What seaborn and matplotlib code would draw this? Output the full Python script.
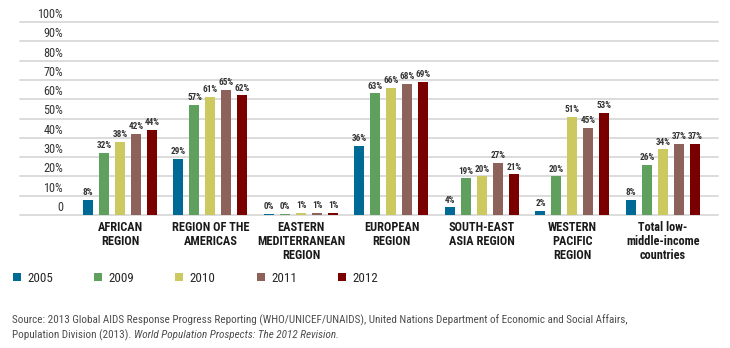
import matplotlib
matplotlib.use("Agg")
import matplotlib.pyplot as plt
import matplotlib.transforms as mtransforms
from matplotlib import font_manager as fm
from matplotlib.patches import Patch
import seaborn as sns
import pandas as pd

# ---- data -------------------------------------------------------------
regions = [
    "AFRICAN\nREGION",
    "REGION OF THE\nAMERICAS",
    "EASTERN\nMEDITERRANEAN\nREGION",
    "EUROPEAN\nREGION",
    "SOUTH-EAST\nASIA REGION",
    "WESTERN\nPACIFIC\nREGION",
    "Total low-\nmiddle-income\ncountries",
]
years = ["2005", "2009", "2010", "2011", "2012"]
values_2005 = [8, 29, 0.4, 36, 4, 2, 8]
values_2009 = [32, 57, 0.4, 63, 19, 20, 26]
values_2010 = [38, 61, 1, 66, 20, 51, 34]
values_2011 = [42, 65, 1, 68, 27, 45, 37]
values_2012 = [44, 62, 1, 69, 21, 53, 37]
y_ticks = [0, 10, 20, 30, 40, 50, 60, 70, 80, 90, 100]
y_tick_labels = ["0", "10%", "20%", "30%", "40%", "50%", "60%", "70%", "80%", "90%", "100%"]
source_line1 = ("Source: 2013 Global AIDS Response Progress Reporting (WHO/UNICEF/UNAIDS), "
                "United Nations Department of Economic and Social Affairs,")
source_line2a = "Population Division (2013). "
source_line2b = "World Population Prospects: The 2012 Revision."

palette = ["#006a96", "#5fa05f", "#cbc95f", "#8c625a", "#7a0000"]

series = {"2005": values_2005, "2009": values_2009, "2010": values_2010,
          "2011": values_2011, "2012": values_2012}
df = pd.DataFrame(
    [(r, y, v) for y in years for r, v in zip(regions, series[y])],
    columns=["region", "year", "value"],
)

# ---- fonts ------------------------------------------------------------
installed = {f.name for f in fm.fontManager.ttflist}
narrow = next((n for n in ["Liberation Sans Narrow", "DejaVu Sans Condensed",
                           "Roboto Condensed", "Open Sans Condensed", "Liberation Sans"]
               if n in installed), "DejaVu Sans")

sns.set_theme(style="white")
plt.rcParams["font.family"] = [narrow, "DejaVu Sans"]

W, H, DPI = 730, 348, 100
fig = plt.figure(figsize=(W / DPI, H / DPI), dpi=DPI)
fig.patch.set_facecolor("white")

# axes spans the gridline extent: x 20..718 px, y 22..215 px
ax = fig.add_axes([20 / W, 1 - 215 / H, 698 / W, 193 / H])

sns.barplot(data=df, x="region", y="value", hue="year", hue_order=years,
            palette=palette, width=0.884, gap=0.375, saturation=1,
            legend=False, ax=ax, linewidth=0)

ax.set_xlim(-1.105, 6.608)
ax.set_ylim(0, 100)
ax.set_xlabel("")
ax.set_ylabel("")
ax.set_yticks(y_ticks)
ax.set_yticklabels([])
ax.tick_params(axis="both", length=0)
ax.set_xticks(range(len(regions)))
ax.set_xticklabels(regions, fontsize=8.8, fontweight="bold", color="#1a1a1a",
                   linespacing=1.12)
ax.tick_params(axis="x", pad=4)
ax.grid(axis="y", color="#d9d9d9", linewidth=1.3)
ax.grid(axis="x", visible=False)
ax.set_axisbelow(True)
for s in ax.spines.values():
    s.set_visible(False)
for gl in ax.get_ygridlines():
    gl.set_clip_on(False)

# y tick labels sit just above their gridlines, inside the plot area
lab_tr = mtransforms.offset_copy(
    mtransforms.blended_transform_factory(ax.transAxes, ax.transData),
    fig=fig, y=7.5, units="dots")
for v, t in zip(y_ticks, y_tick_labels):
    ax.text(43 / 698, v, t, transform=lab_tr, ha="right", va="center",
            fontsize=8.8, color="#333333")

# value labels above each bar
for container in ax.containers:
    labels = [f"{round(b.get_height()):.0f}%" for b in container]
    ax.bar_label(container, labels=labels, padding=2, fontsize=6.6,
                 fontweight="bold", color="#333333")

# legend
handles = [Patch(facecolor=c, edgecolor="none") for c in palette]
fig.legend(handles, years, loc="center left", bbox_to_anchor=(13 / W, 1 - 278 / H),
           ncol=5, frameon=False, fontsize=9.4, handlelength=0.6, handleheight=0.6,
           handletextpad=0.5, columnspacing=3.15, borderaxespad=0, borderpad=0)

# source note
src_kw = dict(fontsize=8.0, color="#4d4d4d", ha="left", va="center")
fig.text(12 / W, 1 - 320 / H, source_line1, **src_kw)
t2 = fig.text(12 / W, 1 - 335 / H, source_line2a, **src_kw)
fig.canvas.draw()
bb = t2.get_window_extent()
fig.text(bb.x1 / W, 1 - 335 / H, source_line2b, style="italic", **src_kw)

fig.savefig("out.png", dpi=DPI, facecolor="white")
